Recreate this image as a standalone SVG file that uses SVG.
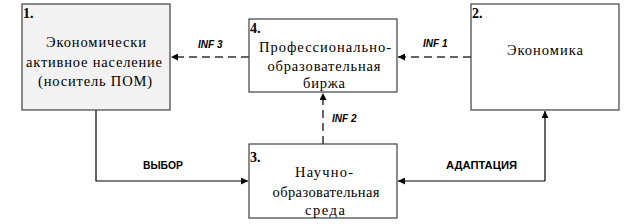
<svg xmlns="http://www.w3.org/2000/svg" width="643" height="224" viewBox="0 0 643 224">
<style>
.box{fill:#fff;stroke:#404040;stroke-width:1.2}
.gray{fill:#f2f2f2}
.t{font-family:"Liberation Serif","Times New Roman",serif;font-size:14.5px;fill:#000;text-anchor:middle}
.n{font-family:"Liberation Serif","Times New Roman",serif;font-size:14px;font-weight:bold;fill:#000}
.lbl{font-family:"Liberation Sans",Arial,sans-serif;font-size:10px;font-weight:bold;fill:#000}
.it{font-style:italic}
.ln{fill:none;stroke:#000;stroke-width:1.2}
.d{stroke-dasharray:8,5;stroke:#333;stroke-width:1.5}
</style>
<defs>
<marker id="ah" viewBox="0 0 10 10" refX="10" refY="5" markerWidth="8" markerHeight="7" markerUnits="userSpaceOnUse" orient="auto">
<path d="M0,0 L10,5 L0,10 Z" fill="#000"/>
</marker>
</defs>
<g id="connectors">
<path class="ln" d="M96,110 V181 H248" marker-end="url(#ah)"/>
<path class="ln" d="M545,181 V111" marker-end="url(#ah)"/>
<path class="ln" d="M545,181 H398" marker-end="url(#ah)"/>
<path class="ln d" d="M471,57 H398" marker-end="url(#ah)"/>
<path class="ln d" d="M249,57 H171" marker-end="url(#ah)"/>
<path class="ln d" d="M323,144 V93" marker-end="url(#ah)"/>
<text class="lbl it" x="198" y="48">INF 3</text>
<text class="lbl it" x="423" y="47">INF 1</text>
<text class="lbl it" x="332" y="122">INF 2</text>
<text class="lbl" x="143" y="169" textLength="40" lengthAdjust="spacingAndGlyphs">ВЫБОР</text>
<text class="lbl" x="446" y="169" textLength="71" lengthAdjust="spacingAndGlyphs">АДАПТАЦИЯ</text>
</g>
<g id="node1">
<rect class="box gray" x="22" y="4" width="148" height="106"/>
<text class="n" x="23" y="18">1.</text>
<text class="t" x="96" y="47" textLength="100" lengthAdjust="spacing">Экономически</text>
<text class="t" x="94" y="67" textLength="136" lengthAdjust="spacing">активное население</text>
<text class="t" x="95" y="86" textLength="114" lengthAdjust="spacing">(носитель ПОМ)</text>
</g>
<g id="node2">
<rect class="box" x="471" y="4" width="148" height="106"/>
<text class="n" x="472" y="18">2.</text>
<text class="t" x="545" y="55" textLength="76" lengthAdjust="spacing">Экономика</text>
</g>
<g id="node4">
<rect class="box" x="249" y="19" width="148" height="73"/>
<text class="n" x="250" y="33">4.</text>
<text class="t" x="325" y="52" textLength="132" lengthAdjust="spacing">Профессионально-</text>
<text class="t" x="324" y="71" textLength="113" lengthAdjust="spacing">образовательная</text>
<text class="t" x="324" y="88" textLength="42" lengthAdjust="spacing">биржа</text>
</g>
<g id="node3">
<rect class="box" x="249" y="144" width="148" height="74"/>
<text class="n" x="250" y="162">3.</text>
<text class="t" x="324" y="177" textLength="58" lengthAdjust="spacing">Научно-</text>
<text class="t" x="326" y="197" textLength="107" lengthAdjust="spacing">образовательная</text>
<text class="t" x="325" y="215" textLength="40" lengthAdjust="spacing">среда</text>
</g>
</svg>
